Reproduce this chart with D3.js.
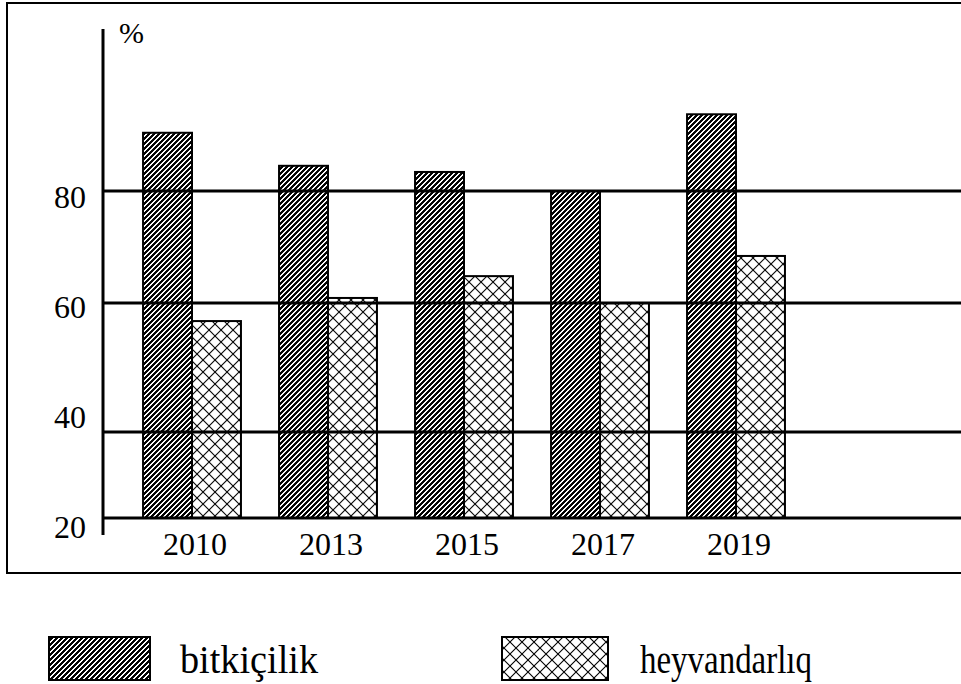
<!DOCTYPE html>
<html>
<head>
<meta charset="utf-8">
<script src="https://cdn.jsdelivr.net/npm/d3@7"></script>
<style>
  html, body { margin: 0; padding: 0; background: #fff; }
  svg { display: block; font-family: "Liberation Serif", "Times New Roman", serif; }
</style>
</head>
<body>
<div id="chart"></div>
<script>
const width = 961, height = 684;

const years = ["2010", "2013", "2015", "2017", "2019"];
const seriesNames = ["bitkiçilik", "heyvandarlıq"];
const bitkicilik = [90.4, 84.5, 83.4, 80, 93.7];
const heyvandarliq = [57.2, 60.9, 64.8, 60, 68.4];
const yTicks = [20, 40, 60, 80];

const data = years.map((y, i) => ({ year: y, values: [bitkicilik[i], heyvandarliq[i]] }));

const svg = d3.select("#chart").append("svg")
  .attr("width", width)
  .attr("height", height);

// hatch patterns
const defs = svg.append("defs");
const diag = defs.append("pattern")
  .attr("id", "diag")
  .attr("patternUnits", "userSpaceOnUse")
  .attr("width", 5).attr("height", 5);
diag.append("rect").attr("width", 5).attr("height", 5).attr("fill", "#fff");
diag.append("path")
  .attr("d", "M0,5 L5,0 M-1,1 L1,-1 M4,6 L6,4")
  .attr("stroke", "#000").attr("stroke-width", 2)
  .attr("shape-rendering", "crispEdges");

const cross = defs.append("pattern")
  .attr("id", "cross")
  .attr("patternUnits", "userSpaceOnUse")
  .attr("width", 12).attr("height", 12);
cross.append("rect").attr("width", 12).attr("height", 12).attr("fill", "#fff");
cross.append("path")
  .attr("d", "M0,0 L12,12 M12,0 L0,12")
  .attr("stroke", "#000").attr("stroke-width", 1.1);

const fills = ["url(#diag)", "url(#cross)"];

// scales (the original axis is not evenly spaced)
const y = d3.scaleLinear().domain(yTicks).range([518, 432, 303, 191]);
const labelY = d3.scaleLinear().domain([20, 80]).range([538, 208]);

const x0 = d3.scaleBand().domain(years).range([124, 804])
  .paddingInner(0.28).paddingOuter(0.14);
const x1 = d3.scaleBand().domain([0, 1]).range([0, x0.bandwidth()]);

// frame
svg.append("path")
  .attr("d", `M${width},3 H7 V573 H${width}`)
  .attr("fill", "none").attr("stroke", "#000").attr("stroke-width", 2);

// bars
const groups = svg.append("g").selectAll("g")
  .data(data)
  .join("g")
  .attr("transform", d => `translate(${x0(d.year)},0)`);

groups.selectAll("rect")
  .data(d => d.values)
  .join("rect")
  .attr("x", (d, i) => x1(i))
  .attr("width", x1.bandwidth())
  .attr("y", d => y(d))
  .attr("height", d => y(20) - y(d))
  .attr("fill", (d, i) => fills[i])
  .attr("stroke", "#000")
  .attr("stroke-width", 2);

// grid lines on top of bars
svg.append("g").selectAll("line")
  .data(yTicks)
  .join("line")
  .attr("x1", 103).attr("x2", width)
  .attr("y1", d => y(d)).attr("y2", d => y(d))
  .attr("stroke", "#000").attr("stroke-width", 3);

// y axis line
svg.append("line")
  .attr("x1", 103).attr("x2", 103)
  .attr("y1", 29).attr("y2", 535)
  .attr("stroke", "#000").attr("stroke-width", 3);

svg.append("g").selectAll("text")
  .data(yTicks)
  .join("text")
  .attr("x", 86)
  .attr("y", d => labelY(d))
  .attr("text-anchor", "end")
  .attr("font-size", 32)
  .text(d => d);

svg.append("text")
  .attr("x", 119).attr("y", 43)
  .attr("font-size", 30)
  .text("%");

// year labels
svg.append("g").selectAll("text")
  .data(years)
  .join("text")
  .attr("x", d => x0(d) + x0.bandwidth() / 2 + 3)
  .attr("y", 555)
  .attr("text-anchor", "middle")
  .attr("font-size", 32)
  .text(d => d);

// legend
const legendX = [49, 502];
const legendText = [180, 640];
const legendW = [138, 172];
const legend = svg.append("g").selectAll("g")
  .data(seriesNames)
  .join("g");

legend.append("rect")
  .attr("x", (d, i) => legendX[i])
  .attr("y", 637)
  .attr("width", (d, i) => i === 0 ? 101 : 106)
  .attr("height", 43)
  .attr("fill", (d, i) => fills[i])
  .attr("stroke", "#000")
  .attr("stroke-width", 2);

legend.append("text")
  .attr("x", (d, i) => legendText[i])
  .attr("y", 673)
  .attr("font-size", 40)
  .attr("textLength", (d, i) => legendW[i])
  .attr("lengthAdjust", "spacingAndGlyphs")
  .text(d => d);
</script>
</body>
</html>
